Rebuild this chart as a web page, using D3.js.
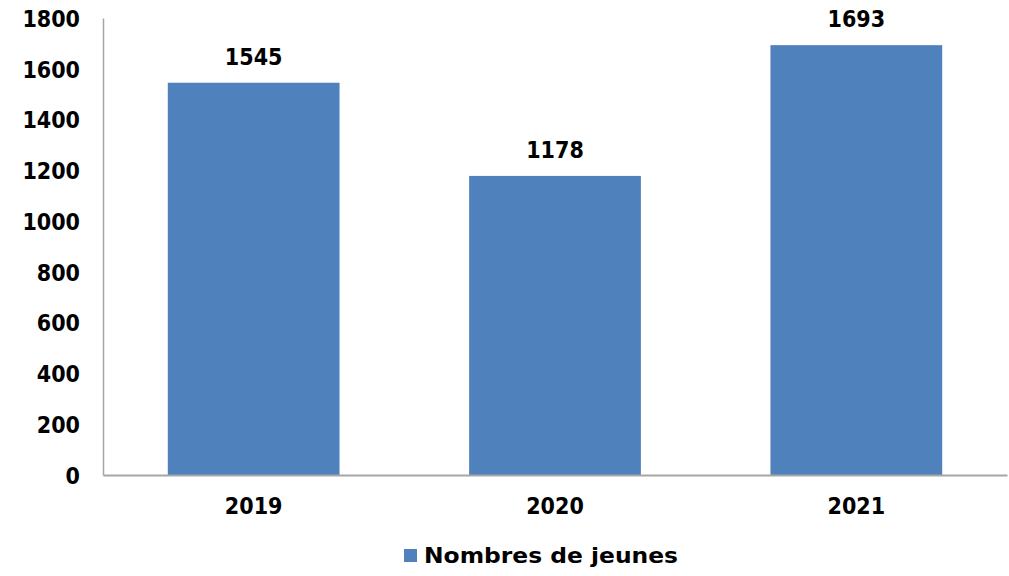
<!DOCTYPE html>
<html><head><meta charset="utf-8">
<script src="https://cdn.jsdelivr.net/npm/d3@7"></script>
<style>body{margin:0;background:#fff;}svg{display:block;font-family:"DejaVu Sans Condensed","DejaVu Sans",sans-serif;}</style>
</head><body>
<svg id="c" width="1009" height="576"></svg>
<script>
const categories = ["2019", "2020", "2021"];
const values = [1545, 1178, 1693];
const yTicks = [0, 200, 400, 600, 800, 1000, 1200, 1400, 1600, 1800];
const seriesName = "Nombres de jeunes";

(function(){
const svg = d3.select("#c");
const FONT = "DejaVu Sans Condensed, DejaVu Sans, sans-serif";
const mLeft = 103, mRight = 1007, mTop = 18, mBottom = 475;
const x = d3.scaleBand().domain(categories).range([mLeft, mRight]).paddingInner(0.43).paddingOuter(0.215);
const y = d3.scaleLinear().domain([0, 1800]).range([mBottom, mTop]);
const color = "#4F81BD";

svg.selectAll("rect.bar").data(values).join("rect").attr("class","bar")
  .attr("x",(d,i)=>x(categories[i])).attr("width",x.bandwidth())
  .attr("y",d=>y(d)).attr("height",d=>y(0)-y(d)).attr("fill",color);

const yAxis = svg.append("g").attr("transform",`translate(${mLeft},0)`)
  .call(d3.axisLeft(y).tickValues(yTicks).tickFormat(d3.format("d")).tickSize(0).tickPadding(23));
yAxis.select(".domain").attr("stroke","#A6A6A6").attr("stroke-width",1.5);
yAxis.selectAll("text").attr("font-size",23).attr("font-weight","bold").attr("fill","#000").attr("font-family",FONT).attr("dy","0.36em");

const xAxis = svg.append("g").attr("transform",`translate(0,${mBottom})`)
  .call(d3.axisBottom(x).tickSize(0).tickPadding(23));
xAxis.select(".domain").attr("stroke","#A6A6A6").attr("stroke-width",2);
xAxis.selectAll("text").attr("font-size",23).attr("font-weight","bold").attr("fill","#000").attr("font-family",FONT);

svg.selectAll("text.lbl").data(values).join("text").attr("class","lbl")
  .attr("x",(d,i)=>x(categories[i])+x.bandwidth()/2).attr("y",d=>y(d)-18)
  .attr("text-anchor","middle").attr("font-size",23).attr("font-weight","bold").attr("fill","#000")
  .attr("font-family",FONT).text(d=>d);

const lg = svg.append("g");
lg.append("rect").attr("x",404).attr("y",549).attr("width",13).attr("height",13).attr("fill",color);
lg.append("text").attr("x",424).attr("y",563).attr("font-size",22).attr("font-weight","bold").attr("fill","#000")
  .attr("font-family","DejaVu Sans, sans-serif").attr("textLength",254).attr("lengthAdjust","spacingAndGlyphs").text(seriesName);
})();
</script>
</body></html>
